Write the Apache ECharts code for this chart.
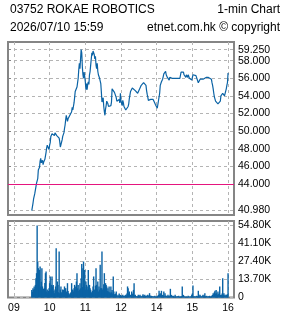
<!DOCTYPE html>
<html>
<head>
<meta charset="utf-8">
<script src="https://cdn.jsdelivr.net/npm/echarts@6/dist/echarts.min.js"></script>
<style>
html, body { margin: 0; padding: 0; background: #fff; }
#chart { width: 285px; height: 318px; }
</style>
</head>
<body>
<div id="chart"></div>
<script>
var stockName = '03752 ROKAE ROBOTICS';
var chartType = '1-min Chart';
var stamp = '2026/07/10 15:59';
var source = 'etnet.com.hk \u00a9 copyright';

// minutes counted from 08:50, lunch (12:00-13:00) removed
var hourTicks = [10, 70, 130, 190, 250, 310, 370];
var hourLabels = ['09', '10', '11', '12', '14', '15', '16'];
var sessionStart = 40; // 09:30

var prevClose = 44;
var priceTicks = [40.98, 44, 46, 48, 50, 52, 54, 56, 58, 59.25];
var volumeTicks = [0, 13.7, 27.4, 41.1, 54.8];

// 1-min closing prices, 09:30 -> 16:00
var prices = [
  40.98, 41.0, 41.8, 42.3, 42.4, 42.9, 43.3, 43.5, 44.1, 43.9,
  44.6, 45.6, 45.7, 45.9, 46.6, 46.9, 46.4, 46.5, 46.7, 46.2,
  46.5, 46.6, 46.8, 46.9, 47.6, 48.1, 48.4, 48.6, 48.2, 47.9,
  48.4, 48.7, 49.4, 49.6, 49.7, 49.7, 49.9, 49.6, 49.5, 49.8,
  49.9, 49.6, 49.5, 49.7, 49.6, 49.5, 49.2, 48.8, 48.2, 48.0,
  48.3, 49.0, 49.4, 49.6, 49.8, 50.3, 50.7, 51.3, 51.8, 51.6,
  51.1, 51.4, 51.3, 51.3, 51.8, 51.9, 52.0, 52.2, 52.7, 52.4,
  52.5, 53.2, 53.8, 54.5, 54.6, 54.3, 55.0, 54.9, 56.0, 57.0,
  57.7, 57.1, 58.2, 59.25, 58.9, 57.3, 56.4, 56.0, 56.7, 56.2,
  55.6, 54.7, 55.4, 54.7, 55.3, 55.6, 55.3, 56.4, 56.75, 57.5,
  58.2, 58.9, 58.6, 59.1, 59.2, 58.7, 58.2, 58.5, 57.5, 57.1,
  57.7, 56.8, 56.4, 56.2, 56.0, 55.8, 55.4, 54.4, 53.3, 53.3,
  53.8, 52.8, 52.2, 51.8, 52.5, 52.9, 53.4, 53.3, 53.1, 52.8,
  53.0, 52.8, 52.8, 52.9, 53.3, 54.8, 54.9, 54.6, 54.7, 54.4,
  54.3, 54.4, 53.8, 53.4, 53.2, 53.4, 53.5, 53.6, 53.2, 54.3,
  53.4, 53.3, 52.9, 53.5, 53.2, 52.8, 52.6, 52.8, 52.4, 52.6,
  52.5, 52.4, 52.8, 53.1, 53.7, 54.1, 54.5, 54.7, 54.6, 54.9,
  54.9, 54.8, 54.9, 54.9, 54.6, 54.4, 54.5, 54.5, 54.3, 54.4,
  54.2, 54.4, 54.9, 55.1, 55.2, 55.3, 55.3, 55.4, 55.5, 55.6,
  55.7, 55.4, 55.2, 54.6, 54.2, 53.9, 53.5, 53.4, 53.3, 53.5,
  53.6, 53.6, 53.5, 53.7, 53.6, 53.5, 53.3, 53.1, 53.0, 53.1,
  52.8, 52.6, 52.7, 52.4, 52.5, 54.3, 55.2, 55.3, 55.6, 55.5,
  55.9, 56.2, 56.5, 56.7, 56.6, 56.8, 56.4, 56.2, 56.1, 55.9,
  56.2, 55.8, 56.1, 56.0, 56.1, 55.9, 56.0, 56.0, 56.0, 56.1,
  56.0, 55.9, 56.0, 56.1, 56.0, 56.0, 56.1, 56.0, 56.0, 56.0,
  56.2, 56.7, 56.8, 56.6, 56.8, 56.7, 56.4, 56.3, 56.2, 56.1,
  56.4, 56.3, 56.1, 56.4, 56.2, 56.0, 56.0, 55.9, 56.0, 55.8,
  56.0, 56.4, 56.4, 56.3, 56.4, 56.4, 56.3, 56.4, 56.4, 56.3,
  55.5, 55.3, 55.5, 55.9, 55.7, 55.9, 55.8, 55.8, 55.9, 55.8,
  55.9, 56.0, 56.0, 56.1, 56.0, 56.0, 56.0, 56.1, 56.0, 56.0,
  56.0, 56.0, 55.9, 55.5, 55.2, 54.8, 54.3, 53.9, 53.7, 53.4,
  53.5, 53.2, 53.6, 53.1, 52.9, 53.3, 53.0, 53.4, 54.0, 54.2,
  54.1, 54.3, 54.2, 54.1, 54.0, 54.1, 54.0, 54.8, 55.2, 55.5,
  56.6
];

// 1-min volume, thousands of shares
var volumeK = [
  5.8, 4.2, 7.1, 6.0, 8.4, 6.5, 9.6, 14.7, 18.5, 54.8,
  27.0, 22.3, 10.0, 21.0, 23.6, 8.4, 12.0, 22.3, 8.4, 5.8,
  6.5, 7.1, 11.0, 18.5, 19.8, 4.6, 6.0, 3.3, 5.0, 7.1,
  10.9, 16.0, 6.0, 9.6, 16.0, 8.4, 9.6, 5.0, 3.3, 6.0,
  8.4, 37.5, 6.0, 12.2, 9.6, 4.0, 35.0, 3.3, 6.0, 8.4,
  4.0, 3.3, 6.0, 5.8, 4.6, 8.4, 5.0, 7.1, 4.6, 3.5,
  10.9, 5.0, 3.3, 2.5, 2.0, 3.3, 4.0, 10.9, 6.0, 5.8,
  4.6, 7.0, 9.6, 8.4, 6.0, 12.2, 18.5, 7.0, 9.6, 5.0,
  6.0, 10.9, 7.0, 14.7, 25.4, 8.0, 22.3, 27.4, 10.0, 21.0,
  6.0, 12.2, 9.6, 8.4, 6.0, 21.0, 7.0, 9.6, 7.1, 5.8,
  4.0, 3.3, 5.0, 8.4, 16.0, 6.0, 5.8, 9.0, 22.3, 9.6,
  6.0, 12.2, 4.6, 8.4, 6.0, 24.9, 7.0, 7.1, 35.0, 6.0,
  7.1, 10.0, 18.5, 6.0, 10.9, 9.6, 8.4, 5.0, 7.1, 4.6,
  8.4, 4.0, 3.3, 8.4, 4.0, 5.8, 3.0, 16.0, 4.6, 2.5,
  2.0, 3.0, 4.6, 1.5, 0.8, 2.0, 1.0, 3.0, 1.2, 2.0,
  1.0, 1.5, 0.8, 2.0, 1.2, 0.6, 1.5, 1.0, 2.0, 1.5,
  3.0, 8.4, 7.1, 3.0, 4.6, 2.0, 2.0, 1.0, 4.6, 2.5,
  3.0, 5.8, 10.9, 1.5, 2.0, 1.0, 0.8, 1.2, 0.6, 2.0,
  1.0, 1.5, 2.0, 0.8, 1.0, 0.8, 1.5, 2.5, 1.5, 1.0,
  2.0, 1.2, 0.8, 1.5, 1.0, 2.0, 1.5, 1.0, 3.3, 1.5,
  0.8, 1.3, 0.6, 1.0, 0.8, 0.6, 1.0, 1.3, 0.5, 0.8,
  0.8, 1.0, 1.3, 2.0, 5.1, 2.5, 3.3, 1.5, 5.1, 1.0,
  2.0, 1.5, 4.6, 1.0, 3.3, 1.5, 1.0, 1.3, 0.8, 2.0,
  1.2, 0.8, 1.5, 6.6, 1.0, 2.0, 0.8, 1.2, 1.3, 0.6,
  0.8, 2.0, 0.6, 0.8, 0.5, 1.0, 0.8, 1.3, 0.5, 0.6,
  0.8, 0.8, 1.0, 8.4, 1.5, 2.0, 0.8, 0.8, 0.5, 0.6,
  0.8, 0.6, 0.5, 1.3, 0.6, 0.5, 0.8, 0.6, 1.0, 2.0,
  3.0, 9.1, 0.8, 1.0, 0.6, 0.8, 0.5, 1.3, 0.8, 1.0,
  5.1, 2.0, 1.0, 2.0, 0.8, 0.8, 1.0, 1.5, 2.0, 1.0,
  1.5, 3.3, 1.0, 0.8, 1.3, 0.6, 0.8, 0.8, 1.0, 1.3,
  0.8, 0.6, 1.0, 1.5, 2.0, 3.3, 2.5, 4.0, 5.1, 3.0,
  5.8, 3.3, 2.0, 4.6, 2.5, 3.0, 8.4, 2.0, 1.5, 2.0,
  3.0, 14.7, 2.0, 3.3, 1.5, 2.0, 1.0, 2.0, 1.5, 2.5,
  18.5
];

var FONT = 'Liberation Sans';
var lineColor = '#0b63a5';
var gridLine = { show: true, lineStyle: { color: '#b4b4b4', type: [3, 3], width: 1 } };

var priceData = prices.map(function (p, i) { return [sessionStart + i, p]; });
var volumeData = volumeK.map(function (v, i) { return [sessionStart + i, v]; });

var chart = echarts.init(document.getElementById('chart'));

var option = {
  animation: false,
  backgroundColor: '#fff',
  title: [
    { text: stockName, left: 10, top: 4, padding: 0, textStyle: { fontSize: 12, fontWeight: 'normal', color: '#000', fontFamily: FONT } },
    { text: chartType, right: 5, top: 4, padding: 0, textStyle: { fontSize: 12, fontWeight: 'normal', color: '#000', fontFamily: FONT } },
    { text: stamp, left: 10, top: 22, padding: 0, textStyle: { fontSize: 12, fontWeight: 'normal', color: '#000', fontFamily: FONT } },
    { text: source, right: 5, top: 22, padding: 0, textStyle: { fontSize: 12, fontWeight: 'normal', color: '#000', fontFamily: FONT } }
  ],
  grid: [
    { left: 8, right: 51, top: 42, height: 173, show: true, borderColor: '#858585', borderWidth: 2, containLabel: false, outerBoundsMode: 'none' },
    { left: 8, right: 51, top: 221, height: 76.5, show: true, borderColor: '#858585', borderWidth: 2, containLabel: false, outerBoundsMode: 'none' }
  ],
  xAxis: [
    {
      type: 'value', gridIndex: 0, min: 0, max: 380,
      axisLine: { show: false },
      axisTick: { show: false, customValues: hourTicks },
      axisLabel: { show: false, customValues: hourTicks },
      splitLine: gridLine
    },
    {
      type: 'value', gridIndex: 1, min: 0, max: 380,
      axisLine: { show: false },
      axisTick: { show: false, customValues: hourTicks },
      axisLabel: {
        customValues: hourTicks, margin: 5,
        fontSize: 10.5, fontFamily: FONT, color: '#000',
        formatter: function (v) { return hourLabels[hourTicks.indexOf(v)]; }
      },
      splitLine: gridLine
    }
  ],
  yAxis: [
    {
      type: 'value', gridIndex: 0, position: 'right', min: 40.48, max: 60.12,
      axisLine: { show: false },
      axisTick: { show: true, length: 3, customValues: priceTicks, lineStyle: { color: '#858585' } },
      axisLabel: {
        customValues: priceTicks, margin: 4,
        fontSize: 10.5, fontFamily: FONT, color: '#000',
        formatter: function (v) { return v.toFixed(3); }
      },
      splitLine: gridLine
    },
    {
      type: 'value', gridIndex: 1, position: 'right', min: 0, max: 58.2,
      axisLine: { show: false },
      axisTick: { show: true, length: 3, customValues: volumeTicks, lineStyle: { color: '#858585' } },
      axisLabel: {
        customValues: volumeTicks, margin: 4,
        fontSize: 10.5, fontFamily: FONT, color: '#000',
        formatter: function (v) { return v === 0 ? '0' : v.toFixed(2) + 'K'; }
      },
      splitLine: gridLine
    }
  ],
  series: [
    {
      type: 'line', xAxisIndex: 0, yAxisIndex: 0,
      data: priceData, showSymbol: false,
      lineStyle: { color: lineColor, width: 1.2 },
      markLine: {
        silent: true, symbol: 'none',
        label: { show: false },
        lineStyle: { color: '#e5157e', width: 1, type: 'solid' },
        data: [{ yAxis: prevClose }]
      },
      z: 3
    },
    {
      type: 'bar', xAxisIndex: 1, yAxisIndex: 1,
      data: volumeData, barWidth: 1.4,
      itemStyle: { color: lineColor }
    }
  ]
};

chart.setOption(option);
</script>
</body>
</html>
